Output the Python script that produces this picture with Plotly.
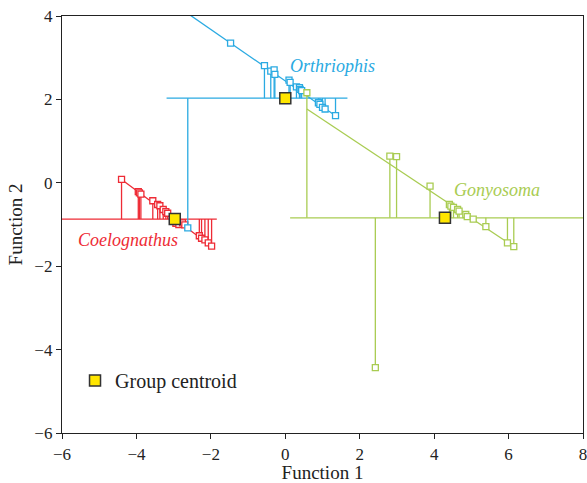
import plotly.graph_objects as go

# ---- data ----
orth_x = [-2.62, -1.47, -0.56, -0.39, -0.30, -0.28, 0.10, 0.13, 0.30, 0.38, 0.40, 0.44, 0.89, 0.93, 1.00, 1.07, 1.35]
orth_y = [-1.08, 3.35, 2.81, 2.68, 2.71, 2.60, 2.46, 2.41, 2.30, 2.28, 2.24, 2.21, 1.92, 1.88, 1.81, 1.77, 1.61]
orth_drop = [1, 0, 1, 1, 1, 1, 1, 1, 1, 1, 1, 1, 1, 1, 1, 1, 1]
orth_centroid = (0.0, 2.03)
orth_hline = [-3.19, 1.67]
orth_trend_x = [-2.62, 1.35]
orth_trend_y = [4.06, 1.61]

coel_x = [-4.40, -3.95, -3.92, -3.88, -3.56, -3.43, -3.37, -3.28, -3.21, -3.16, -2.94, -2.86, -2.76, -2.70, -2.31, -2.25, -2.16, -2.07, -1.98]
coel_y = [0.08, -0.21, -0.24, -0.27, -0.43, -0.52, -0.55, -0.64, -0.69, -0.73, -0.97, -1.00, -0.96, -1.01, -1.27, -1.33, -1.37, -1.44, -1.52]
coel_centroid = (-2.97, -0.87)
coel_hline = [-6.0, -1.84]
coel_trend_x = [-4.40, -1.98]
coel_trend_y = [0.08, -1.52]

gony_x = [0.58, 2.42, 2.81, 2.99, 3.89, 4.41, 4.45, 4.52, 4.63, 4.67, 4.85, 4.89, 5.05, 5.39, 5.97, 6.14]
gony_y = [2.16, -4.43, 0.64, 0.63, -0.08, -0.52, -0.56, -0.59, -0.64, -0.68, -0.76, -0.81, -0.87, -1.05, -1.44, -1.53]
gony_centroid = (4.29, -0.84)
gony_hline = [0.13, 8.0]
gony_trend_x = [0.58, 6.14]
gony_trend_y = [1.77, -1.53]

groups = [
    ("Coelognathus", coel_x, coel_y, None, coel_centroid, coel_hline, coel_trend_x, coel_trend_y, "#EE2B35", (-4.22, -1.37)),
    ("Orthriophis", orth_x, orth_y, orth_drop, orth_centroid, orth_hline, orth_trend_x, orth_trend_y, "#2AAAE2", (1.27, 2.80)),
    ("Gonyosoma", gony_x, gony_y, None, gony_centroid, gony_hline, gony_trend_x, gony_trend_y, "#A9CC52", (5.68, -0.17)),
]

SERIF = "Liberation Serif, Times New Roman, serif"
fig = go.Figure()

for name, xs, ys, drop, cen, hl, tx, ty, col, lab in groups:
    # horizontal line at centroid level
    fig.add_trace(go.Scatter(x=hl, y=[cen[1], cen[1]], mode="lines",
                             line=dict(color=col, width=1.3), showlegend=False, hoverinfo="skip"))
    # vertical drop lines
    vx, vy = [], []
    for i, (xv, yv) in enumerate(zip(xs, ys)):
        if drop is not None and not drop[i]:
            continue
        vx += [xv, xv, None]
        vy += [cen[1], yv, None]
    fig.add_trace(go.Scatter(x=vx, y=vy, mode="lines",
                             line=dict(color=col, width=1.3), showlegend=False, hoverinfo="skip"))
    # trend line
    fig.add_trace(go.Scatter(x=tx, y=ty, mode="lines",
                             line=dict(color=col, width=1.3), showlegend=False, hoverinfo="skip"))
    # points
    fig.add_trace(go.Scatter(x=xs, y=ys, mode="markers", name=name,
                             marker=dict(symbol="square", size=6, color="white",
                                         line=dict(color=col, width=1.3)),
                             showlegend=False))
    fig.add_annotation(x=lab[0], y=lab[1], text="<i>%s</i>" % name, showarrow=False,
                       font=dict(family=SERIF, size=18, color=col))

cx = [g[4][0] for g in groups]
cy = [g[4][1] for g in groups]
fig.add_trace(go.Scatter(x=cx, y=cy, mode="markers", name="Group centroid",
                         marker=dict(symbol="square", size=11, color="#FFE600",
                                     line=dict(color="#333333", width=1.5)),
                         showlegend=True))

fig.update_layout(
    width=587, height=483,
    margin=dict(l=62, r=4, t=16, b=50, autoexpand=False),
    paper_bgcolor="white", plot_bgcolor="white",
    font=dict(family=SERIF, size=17, color="#222222"),
    showlegend=True,
    legend=dict(x=0.025, y=0.126, xanchor="left", yanchor="middle",
                bgcolor="rgba(0,0,0,0)", font=dict(family=SERIF, size=20, color="#222222"),
                itemwidth=30),
)
fig.update_xaxes(range=[-6, 8], dtick=2, showgrid=False, zeroline=False, automargin=False,
                 showline=True, linecolor="#222222", linewidth=1.3, mirror=True,
                 ticks="outside", ticklen=5, tickcolor="#222222", ticklabeloverflow="allow",
                 title=dict(text="Function 1", font=dict(family=SERIF, size=19), standoff=4))
fig.update_yaxes(range=[-6, 4], dtick=2, showgrid=False, zeroline=False, automargin=False,
                 showline=True, linecolor="#222222", linewidth=1.3, mirror=True,
                 ticks="outside", ticklen=5, tickcolor="#222222", ticklabeloverflow="allow",
                 title=dict(text="Function 2", font=dict(family=SERIF, size=19), standoff=6))

fig.write_html("out.html", config={"displayModeBar": False},
               post_script="document.body.style.margin='0';document.body.style.overflow='hidden';")
